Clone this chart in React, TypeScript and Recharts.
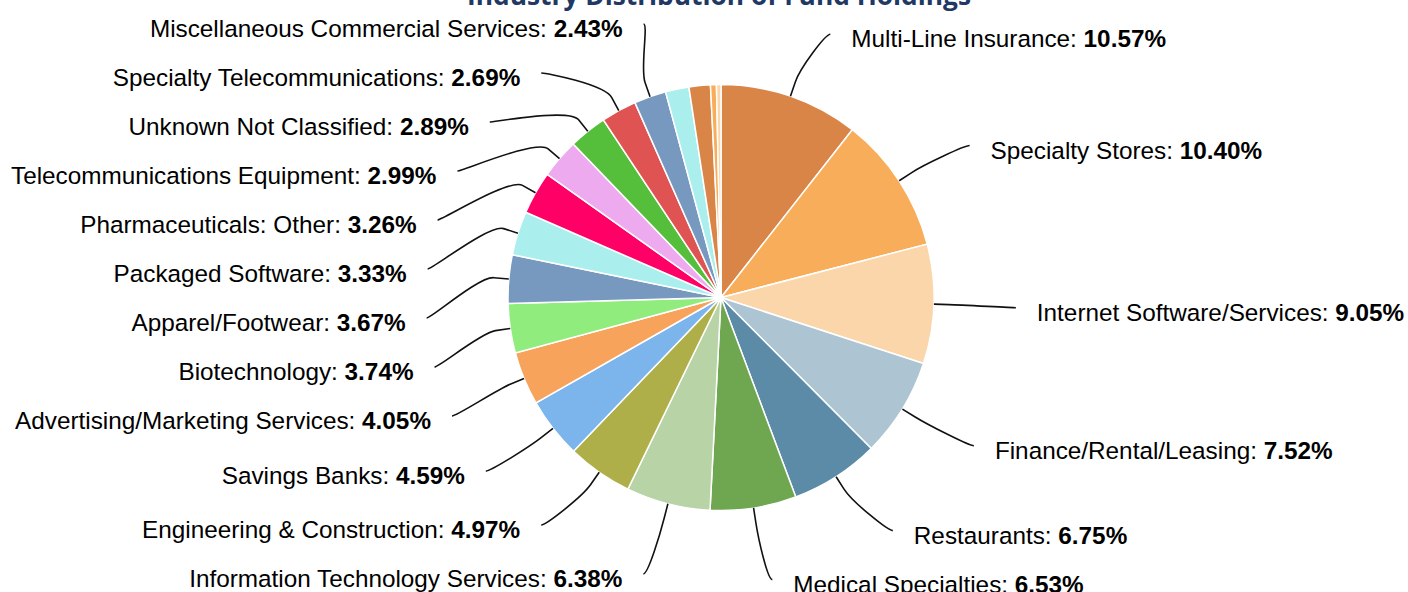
import React from 'react';
import { PieChart, Pie, Cell } from 'recharts';

const titleText = 'Industry Distribution of Fund Holdings';

const categories = [
  'Multi-Line Insurance',
  'Specialty Stores',
  'Internet Software/Services',
  'Finance/Rental/Leasing',
  'Restaurants',
  'Medical Specialties',
  'Information Technology Services',
  'Engineering & Construction',
  'Savings Banks',
  'Advertising/Marketing Services',
  'Biotechnology',
  'Apparel/Footwear',
  'Packaged Software',
  'Pharmaceuticals: Other',
  'Telecommunications Equipment',
  'Unknown Not Classified',
  'Specialty Telecommunications',
  'Miscellaneous Commercial Services',
  'Other 1',
  'Other 2',
  'Other 3',
  'Other 4',
];

const weights = [
  10.57, 10.4, 9.05, 7.52, 6.75, 6.53, 6.38, 4.97, 4.59, 4.05, 3.74, 3.67, 3.33,
  3.26, 2.99, 2.89, 2.69, 2.43, 1.78, 1.62, 0.45, 0.34,
];

const palette = [
  '#da8548', '#f8ad5a', '#fbd6aa', '#adc5d3', '#5c8ba7', '#6fa650', '#b8d4a7',
  '#aeaf48', '#7cb5ec', '#f7a35c', '#90ed7d', '#7798bf', '#aaeeee', '#ff0066',
  '#eeaaee', '#55bf3b', '#df5353', '#7798bf', '#aaeeee',
];

const labelMinShare = 2;

const data = categories.map((name, i) => ({ name, value: weights[i] }));

const LABEL_FONT = "'Liberation Sans', Arial, Helvetica, sans-serif";
const FONT_SIZE = 24.3;
const SPACING = 49;
const TEXT_GAP = 21;
const BREAK_OFFSET = 15;

type LabelPos = { x: number; y: number; left: boolean; theta: number };

let cacheKey = '';
let cacheVal: Record<number, LabelPos> = {};

function layoutLabels(cx: number, cy: number, r: number): Record<number, LabelPos> {
  const key = `${cx}|${cy}|${r}`;
  if (key === cacheKey) return cacheVal;
  const total = weights.reduce((a, b) => a + b, 0);
  let cum = 0;
  const items = weights.map((v, i) => {
    const theta = ((cum + v / 2) / total) * 2 * Math.PI;
    cum += v;
    return { i, theta, show: v >= labelMinShare };
  });
  const labelR = r + 67;
  const minY = cy - 273.5;
  const maxY = cy + 290;
  const ex = r + 82;
  const ey = r + 72;
  const res: Record<number, LabelPos> = {};
  [true, false].forEach((left) => {
    const list = items
      .filter((it) => it.show && (it.theta > Math.PI) === left)
      .map((it) => ({ ...it, natural: cy + 1.5 - Math.cos(it.theta) * labelR }))
      .sort((a, b) => a.natural - b.natural);
    let clusters = list.map((l) => ({ members: [l], top: 0, bottom: 0 }));
    const place = (c: any) => {
      const n = c.members.length;
      const mean = c.members.reduce((s: number, m: any) => s + m.natural, 0) / n;
      let top = mean - ((n - 1) * SPACING) / 2;
      top = Math.max(top, minY);
      top = Math.min(top, maxY - (n - 1) * SPACING);
      c.top = top;
      c.bottom = top + (n - 1) * SPACING;
    };
    for (let guard = 0; guard < 100; guard++) {
      clusters.forEach(place);
      let merged = false;
      for (let k = 0; k < clusters.length - 1; k++) {
        if (clusters[k + 1].top - clusters[k].bottom < SPACING) {
          const m = { members: [...clusters[k].members, ...clusters[k + 1].members], top: 0, bottom: 0 };
          clusters = [...clusters.slice(0, k), m, ...clusters.slice(k + 2)];
          merged = true;
          break;
        }
      }
      if (!merged) break;
    }
    clusters.forEach((c) => {
      c.members.forEach((m: any, j: number) => {
        const y = c.top + j * SPACING;
        const ratio = Math.max(-1, Math.min(1, (y - (cy + 1.5)) / ey));
        const dx = ex * Math.sqrt(1 - ratio * ratio);
        res[m.i] = { x: left ? cx - dx : cx + dx, y, left, theta: m.theta };
      });
    });
  });
  cacheKey = key;
  cacheVal = res;
  return res;
}

const renderLabel = (props: any) => {
  const { cx, cy, outerRadius, index } = props;
  const layout = layoutLabels(cx, cy, outerRadius);
  const pos = layout[index];
  if (!pos) return null;
  const { x, y, left, theta } = pos;
  const r = outerRadius;
  const tx = cx + r * Math.sin(theta);
  const ty = cy - r * Math.cos(theta);
  const bx = cx + (r + BREAK_OFFSET) * Math.sin(theta);
  const by = cy - (r + BREAK_OFFSET) * Math.cos(theta);
  const c1x = x + (left ? 5 : -5);
  const d = `M ${x} ${y} C ${c1x} ${y} ${2 * bx - tx} ${2 * by - ty} ${bx} ${by} L ${tx} ${ty}`;
  const item = data[index];
  return (
    <g key={`lbl-${index}`}>
      <path d={d} fill="none" stroke="#111" strokeWidth={1.6} />
      <text
        x={left ? x - TEXT_GAP : x + TEXT_GAP}
        y={y + 13}
        textAnchor={left ? 'end' : 'start'}
        fontFamily={LABEL_FONT}
        fontSize={FONT_SIZE}
        fill="#000"
        style={{ whiteSpace: 'pre' }}
      >
        <tspan>{`${item.name}: `}</tspan>
        <tspan fontWeight="bold">{`${item.value.toFixed(2)}%`}</tspan>
      </text>
    </g>
  );
};

export default function App() {
  return (
    <div style={{ position: 'absolute', left: 0, top: 0, width: 1408, height: 592, background: '#fff', overflow: 'hidden' }}>
      <PieChart width={1408} height={592} margin={{ top: 0, right: 0, bottom: 0, left: 0 }}>
        <Pie
          data={data}
          dataKey="value"
          nameKey="name"
          cx={721}
          cy={297.5}
          outerRadius={213}
          startAngle={90}
          endAngle={-270}
          stroke="#ffffff"
          strokeWidth={1.5}
          isAnimationActive={false}
          label={renderLabel}
          labelLine={false}
        >
          {data.map((d, i) => (
            <Cell key={d.name} fill={palette[i % palette.length]} />
          ))}
        </Pie>
      </PieChart>
      <svg width={1408} height={40} style={{ position: 'absolute', left: 0, top: 0, pointerEvents: 'none' }}>
        <text
          x={719}
          y={5}
          textAnchor="middle"
          fontFamily="'Open Sans', sans-serif"
          fontWeight={700}
          fontSize={26.3}
          fill="#1f3864"
        >
          {titleText}
        </text>
      </svg>
    </div>
  );
}
